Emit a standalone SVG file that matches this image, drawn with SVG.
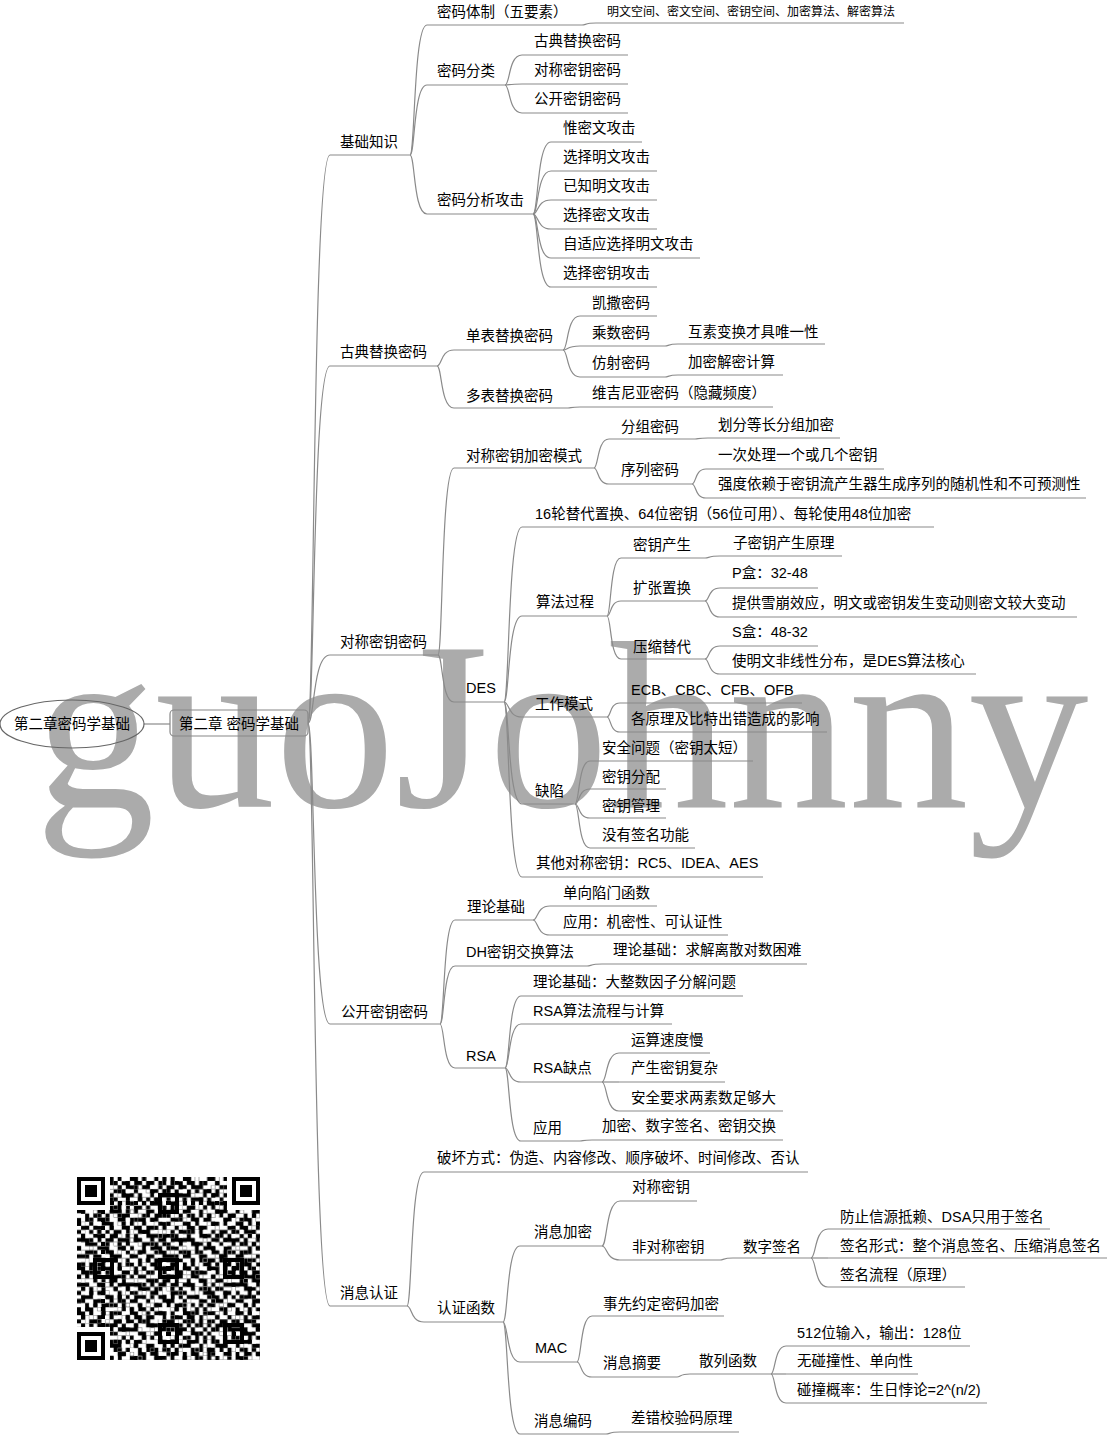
<svg xmlns="http://www.w3.org/2000/svg" width="1107" height="1435" viewBox="0 0 1107 1435">
<style>
.t{font-family:"Liberation Sans","Noto Sans CJK SC",sans-serif;font-size:14.5px;fill:#000}
.s{font-family:"Liberation Sans","Noto Sans CJK SC",sans-serif;font-size:12px;fill:#000}
.u,#connectors path{fill:none;stroke:#8a8a8a;stroke-width:1.2}
.wm{font-family:"Liberation Serif",serif;font-size:240px;fill:#ababab}
</style>
<defs>
<pattern id="qrp" width="13" height="11" patternUnits="userSpaceOnUse">
<path fill="#000" d="M0 0h2v1h-2zM3 0h1v1h-1zM6 0h3v1h-3zM10 0h1v1h-1zM1 1h2v1h-2zM4 1h2v1h-2zM8 1h1v1h-1zM11 1h2v1h-2zM0 2h1v1h-1zM2 2h3v1h-3zM7 2h1v1h-1zM9 2h2v1h-2zM12 2h1v1h-1zM1 3h1v1h-1zM4 3h3v1h-3zM8 3h2v1h-2zM11 3h1v1h-1zM0 4h3v1h-3zM5 4h1v1h-1zM7 4h2v1h-2zM10 4h3v1h-3zM2 5h3v1h-3zM6 5h1v1h-1zM9 5h1v1h-1zM12 5h1v1h-1zM0 6h1v1h-1zM3 6h1v1h-1zM5 6h3v1h-3zM10 6h2v1h-2zM1 7h3v1h-3zM7 7h2v1h-2zM10 7h1v1h-1zM12 7h1v1h-1zM0 8h2v1h-2zM4 8h2v1h-2zM8 8h3v1h-3zM2 9h1v1h-1zM4 9h1v1h-1zM6 9h2v1h-2zM9 9h1v1h-1zM11 9h2v1h-2zM0 10h1v1h-1zM2 10h2v1h-2zM5 10h2v1h-2zM10 10h2v1h-2z"/>
</pattern>
<pattern id="qrw" width="9" height="7" patternUnits="userSpaceOnUse">
<path fill="#fff" d="M2 0h1v1h-1zM7 0h1v1h-1zM4 1h1v1h-1zM0 2h1v1h-1zM6 2h1v1h-1zM3 3h1v1h-1zM8 3h1v1h-1zM1 4h1v1h-1zM5 4h1v1h-1zM7 5h1v1h-1zM2 6h1v1h-1zM4 6h1v1h-1z"/>
</pattern>
<pattern id="qrb" width="11" height="13" patternUnits="userSpaceOnUse">
<path fill="#000" d="M5 0h1v1h-1zM1 1h1v1h-1zM9 1h1v1h-1zM3 2h1v1h-1zM7 3h1v1h-1zM10 3h1v1h-1zM0 4h1v1h-1zM4 5h1v1h-1zM8 5h1v1h-1zM2 6h1v1h-1zM6 7h1v1h-1zM9 7h1v1h-1zM1 8h1v1h-1zM5 9h1v1h-1zM10 9h1v1h-1zM3 10h1v1h-1zM7 10h1v1h-1zM0 11h1v1h-1zM8 12h1v1h-1z"/>
</pattern>
</defs>
<rect width="1107" height="1435" fill="#fff"/>
<text class="wm" x="35" y="807">guoJohnny</text>

<g id="connectors">
<path d="M144 724H170"/>
<path d="M308 723C314.6 723 312.4 155 330 155"/>
<path d="M308 723C314.6 723 312.4 366 330 366"/>
<path d="M308 723C314.6 723 312.4 655 330 655"/>
<path d="M308 723C314.6 723 312.4 1024 330 1024"/>
<path d="M308 723C314.6 723 312.4 1306 330 1306"/>
<path d="M410 155C415.1 155 413.4 25 427 25"/>
<path d="M410 155C415.1 155 413.4 85 427 85"/>
<path d="M410 155C415.1 155 413.4 214 427 214"/>
<path d="M582 25C586.2 25 584.8 23 596 23"/>
<path d="M505 85C510.1 85 508.4 55 522 55"/>
<path d="M505 85C510.1 85 508.4 84 522 84"/>
<path d="M505 85C510.1 85 508.4 113 522 113"/>
<path d="M533 214C538.4 214 536.6 142 551 142"/>
<path d="M533 214C538.4 214 536.6 171 551 171"/>
<path d="M533 214C538.4 214 536.6 200 551 200"/>
<path d="M533 214C538.4 214 536.6 229 551 229"/>
<path d="M533 214C538.4 214 536.6 258 551 258"/>
<path d="M533 214C538.4 214 536.6 287 551 287"/>
<path d="M437 366C442.1 366 440.4 350 454 350"/>
<path d="M437 366C442.1 366 440.4 408 454 408"/>
<path d="M563 350C568.1 350 566.4 316 580 316"/>
<path d="M563 350C568.1 350 566.4 346 580 346"/>
<path d="M563 350C568.1 350 566.4 377 580 377"/>
<path d="M665 346C668.9 346 667.6 344 678 344"/>
<path d="M665 377C668.9 377 667.6 375 678 375"/>
<path d="M568 408C571.6 408 570.4 407 580 407"/>
<path d="M438 655C442.8 655 441.2 468 454 468"/>
<path d="M438 655C442.8 655 441.2 702 454 702"/>
<path d="M594 468C598.5 468 597 439 609 439"/>
<path d="M594 468C598.5 468 597 484 609 484"/>
<path d="M695 439C698.9 439 697.6 438 708 438"/>
<path d="M692 484C696.2 484 694.8 469 706 469"/>
<path d="M692 484C696.2 484 694.8 498 706 498"/>
<path d="M504 702C509.4 702 507.6 527 522 527"/>
<path d="M504 702C509.4 702 507.6 616 522 616"/>
<path d="M504 702C509.4 702 507.6 717 522 717"/>
<path d="M504 702C509.4 702 507.6 804 522 804"/>
<path d="M504 702C509.4 702 507.6 877 522 877"/>
<path d="M607 616C611.2 616 609.8 558 621 558"/>
<path d="M607 616C611.2 616 609.8 601 621 601"/>
<path d="M607 616C611.2 616 609.8 659 621 659"/>
<path d="M705 558C709.5 558 708 556 720 556"/>
<path d="M705 601C709.5 601 708 588 720 588"/>
<path d="M705 601C709.5 601 708 617 720 617"/>
<path d="M705 659C709.5 659 708 646 720 646"/>
<path d="M705 659C709.5 659 708 674 720 674"/>
<path d="M607 717C610.9 717 609.6 703 620 703"/>
<path d="M607 717C610.9 717 609.6 732 620 732"/>
<path d="M575 804C579.5 804 578 761 590 761"/>
<path d="M575 804C579.5 804 578 789 590 789"/>
<path d="M575 804C579.5 804 578 818 590 818"/>
<path d="M575 804C579.5 804 578 848 590 848"/>
<path d="M440 1024C444.5 1024 443 920 455 920"/>
<path d="M440 1024C444.5 1024 443 966 455 966"/>
<path d="M440 1024C444.5 1024 443 1068 455 1068"/>
<path d="M533 920C538.1 920 536.4 906 550 906"/>
<path d="M533 920C538.1 920 536.4 935 550 935"/>
<path d="M587 966C591.5 966 590 964 602 964"/>
<path d="M505 1068C509.8 1068 508.2 996 521 996"/>
<path d="M505 1068C509.8 1068 508.2 1024 521 1024"/>
<path d="M505 1068C509.8 1068 508.2 1082 521 1082"/>
<path d="M505 1068C509.8 1068 508.2 1141 521 1141"/>
<path d="M602 1082C607.1 1082 605.4 1053 619 1053"/>
<path d="M602 1082C607.1 1082 605.4 1082 619 1082"/>
<path d="M602 1082C607.1 1082 605.4 1111 619 1111"/>
<path d="M580 1141C583.6 1141 582.4 1140 592 1140"/>
<path d="M407 1306C412.1 1306 410.4 1172 424 1172"/>
<path d="M407 1306C412.1 1306 410.4 1322 424 1322"/>
<path d="M503 1322C508.1 1322 506.4 1246 520 1246"/>
<path d="M503 1322C508.1 1322 506.4 1362 520 1362"/>
<path d="M503 1322C508.1 1322 506.4 1434 520 1434"/>
<path d="M602 1246C607.4 1246 605.6 1201 620 1201"/>
<path d="M602 1246C607.4 1246 605.6 1260 620 1260"/>
<path d="M720 1260C723.9 1260 722.6 1258 733 1258"/>
<path d="M811 1258C816.1 1258 814.4 1229 828 1229"/>
<path d="M811 1258C816.1 1258 814.4 1258 828 1258"/>
<path d="M811 1258C816.1 1258 814.4 1287 828 1287"/>
<path d="M577 1362C581.5 1362 580 1316 592 1316"/>
<path d="M577 1362C581.5 1362 580 1377 592 1377"/>
<path d="M677 1377C680.9 1377 679.6 1374 690 1374"/>
<path d="M771 1374C775.5 1374 774 1346 786 1346"/>
<path d="M771 1374C775.5 1374 774 1374 786 1374"/>
<path d="M771 1374C775.5 1374 774 1403 786 1403"/>
<path d="M606 1434C610.2 1434 608.8 1432 620 1432"/>
</g>

<g id="root"><ellipse cx="72" cy="724" rx="72" ry="24" fill="none" stroke="#666" stroke-width="1.2"/><text class="t" x="72" y="729" text-anchor="middle">第二章密码学基础</text></g>
<g id="topic"><rect x="170" y="710" width="138" height="26" rx="4" fill="none" stroke="#888" stroke-width="1.2"/><text class="t" x="179" y="729">第二章 密码学基础</text></g>

<g id="n-jichu"><path class="u" d="M330 155H410"/><text class="t" x="340" y="147">基础知识</text></g>
<g id="n-gudian"><path class="u" d="M330 366H437"/><text class="t" x="340" y="357">古典替换密码</text></g>
<g id="n-duichen"><path class="u" d="M330 655H438"/><text class="t" x="340" y="647">对称密钥密码</text></g>
<g id="n-gongkai"><path class="u" d="M330 1024H440"/><text class="t" x="341" y="1017">公开密钥密码</text></g>
<g id="n-xiaoxi"><path class="u" d="M330 1306H407"/><text class="t" x="340" y="1298">消息认证</text></g>

<g id="n-a1"><path class="u" d="M427 25H582"/><text class="t" x="437" y="17">密码体制（五要素）</text></g>
<g id="n-a1a"><path class="u" d="M596 23H904"/><text class="s" x="607" y="16">明文空间、密文空间、密钥空间、加密算法、解密算法</text></g>
<g id="n-a2"><path class="u" d="M427 85H505"/><text class="t" x="437" y="76">密码分类</text></g>
<g id="n-a2a"><path class="u" d="M522 55H628"/><text class="t" x="534" y="46">古典替换密码</text></g>
<g id="n-a2b"><path class="u" d="M522 84H628"/><text class="t" x="534" y="75">对称密钥密码</text></g>
<g id="n-a2c"><path class="u" d="M522 113H628"/><text class="t" x="534" y="104">公开密钥密码</text></g>
<g id="n-a3"><path class="u" d="M427 214H533"/><text class="t" x="437" y="205">密码分析攻击</text></g>
<g id="n-a3a"><path class="u" d="M551 142H642"/><text class="t" x="563" y="133">惟密文攻击</text></g>
<g id="n-a3b"><path class="u" d="M551 171H657"/><text class="t" x="563" y="162">选择明文攻击</text></g>
<g id="n-a3c"><path class="u" d="M551 200H657"/><text class="t" x="563" y="191">已知明文攻击</text></g>
<g id="n-a3d"><path class="u" d="M551 229H657"/><text class="t" x="563" y="220">选择密文攻击</text></g>
<g id="n-a3e"><path class="u" d="M551 258H700"/><text class="t" x="563" y="249">自适应选择明文攻击</text></g>
<g id="n-a3f"><path class="u" d="M551 287H657"/><text class="t" x="563" y="278">选择密钥攻击</text></g>

<g id="n-b1"><path class="u" d="M454 350H563"/><text class="t" x="466" y="341">单表替换密码</text></g>
<g id="n-b1a"><path class="u" d="M580 316H657"/><text class="t" x="592" y="308">凯撒密码</text></g>
<g id="n-b1b"><path class="u" d="M580 346H665"/><text class="t" x="592" y="338">乘数密码</text></g>
<g id="n-b1b1"><path class="u" d="M678 344H825"/><text class="t" x="688" y="337">互素变换才具唯一性</text></g>
<g id="n-b1c"><path class="u" d="M580 377H665"/><text class="t" x="592" y="368">仿射密码</text></g>
<g id="n-b1c1"><path class="u" d="M678 375H783"/><text class="t" x="688" y="367">加密解密计算</text></g>
<g id="n-b2"><path class="u" d="M454 408H568"/><text class="t" x="466" y="401">多表替换密码</text></g>
<g id="n-b2a"><path class="u" d="M580 407H773"/><text class="t" x="592" y="398">维吉尼亚密码（隐藏频度）</text></g>

<g id="n-c1"><path class="u" d="M454 468H594"/><text class="t" x="466" y="461">对称密钥加密模式</text></g>
<g id="n-c1a"><path class="u" d="M609 439H695"/><text class="t" x="621" y="432">分组密码</text></g>
<g id="n-c1a1"><path class="u" d="M708 438H840"/><text class="t" x="718" y="430">划分等长分组加密</text></g>
<g id="n-c1b"><path class="u" d="M609 484H692"/><text class="t" x="621" y="475">序列密码</text></g>
<g id="n-c1b1"><path class="u" d="M706 469H884"/><text class="t" x="718" y="460">一次处理一个或几个密钥</text></g>
<g id="n-c1b2"><path class="u" d="M706 498H1086"/><text class="t" x="718" y="489">强度依赖于密钥流产生器生成序列的随机性和不可预测性</text></g>
<g id="n-c2"><path class="u" d="M454 702H504"/><text class="t" x="466" y="693">DES</text></g>
<g id="n-c2a"><path class="u" d="M522 527H934"/><text class="t" x="535" y="519">16轮替代置换、64位密钥（56位可用）、每轮使用48位加密</text></g>
<g id="n-c2b"><path class="u" d="M522 616H607"/><text class="t" x="536" y="607">算法过程</text></g>
<g id="n-c2b1"><path class="u" d="M621 558H705"/><text class="t" x="633" y="550">密钥产生</text></g>
<g id="n-c2b1a"><path class="u" d="M720 556H842"/><text class="t" x="733" y="548">子密钥产生原理</text></g>
<g id="n-c2b2"><path class="u" d="M621 601H705"/><text class="t" x="633" y="593">扩张置换</text></g>
<g id="n-c2b2a"><path class="u" d="M720 588H818"/><text class="t" x="732" y="578">P盒：32-48</text></g>
<g id="n-c2b2b"><path class="u" d="M720 617H1077"/><text class="t" x="732" y="608">提供雪崩效应，明文或密钥发生变动则密文较大变动</text></g>
<g id="n-c2b3"><path class="u" d="M621 659H705"/><text class="t" x="633" y="652">压缩替代</text></g>
<g id="n-c2b3a"><path class="u" d="M720 646H818"/><text class="t" x="732" y="637">S盒：48-32</text></g>
<g id="n-c2b3b"><path class="u" d="M720 674H976"/><text class="t" x="732" y="666">使明文非线性分布，是DES算法核心</text></g>
<g id="n-c2c"><path class="u" d="M522 717H607"/><text class="t" x="535" y="709">工作模式</text></g>
<g id="n-c2c1"><path class="u" d="M620 703H802"/><text class="t" x="631" y="695">ECB、CBC、CFB、OFB</text></g>
<g id="n-c2c2"><path class="u" d="M620 732H827"/><text class="t" x="631" y="724">各原理及比特出错造成的影响</text></g>
<g id="n-c2d"><path class="u" d="M522 804H575"/><text class="t" x="535" y="796">缺陷</text></g>
<g id="n-c2d1"><path class="u" d="M590 761H753"/><text class="t" x="602" y="753">安全问题（密钥太短）</text></g>
<g id="n-c2d2"><path class="u" d="M590 789H666"/><text class="t" x="602" y="782">密钥分配</text></g>
<g id="n-c2d3"><path class="u" d="M590 818H666"/><text class="t" x="602" y="811">密钥管理</text></g>
<g id="n-c2d4"><path class="u" d="M590 848H695"/><text class="t" x="602" y="840">没有签名功能</text></g>
<g id="n-c2e"><path class="u" d="M522 877H763"/><text class="t" x="536" y="868">其他对称密钥：RC5、IDEA、AES</text></g>

<g id="n-d1"><path class="u" d="M455 920H533"/><text class="t" x="467" y="912">理论基础</text></g>
<g id="n-d1a"><path class="u" d="M550 906H657"/><text class="t" x="563" y="898">单向陷门函数</text></g>
<g id="n-d1b"><path class="u" d="M550 935H728"/><text class="t" x="563" y="927">应用：机密性、可认证性</text></g>
<g id="n-d2"><path class="u" d="M455 966H587"/><text class="t" x="466" y="957">DH密钥交换算法</text></g>
<g id="n-d2a"><path class="u" d="M602 964H807"/><text class="t" x="613" y="955">理论基础：求解离散对数困难</text></g>
<g id="n-d3"><path class="u" d="M455 1068H505"/><text class="t" x="466" y="1061">RSA</text></g>
<g id="n-d3a"><path class="u" d="M521 996H743"/><text class="t" x="533" y="987">理论基础：大整数因子分解问题</text></g>
<g id="n-d3b"><path class="u" d="M521 1024H672"/><text class="t" x="533" y="1016">RSA算法流程与计算</text></g>
<g id="n-d3c"><path class="u" d="M521 1082H602"/><text class="t" x="533" y="1073">RSA缺点</text></g>
<g id="n-d3c1"><path class="u" d="M619 1053H710"/><text class="t" x="631" y="1045">运算速度慢</text></g>
<g id="n-d3c2"><path class="u" d="M619 1082H725"/><text class="t" x="631" y="1073">产生密钥复杂</text></g>
<g id="n-d3c3"><path class="u" d="M619 1111H783"/><text class="t" x="631" y="1103">安全要求两素数足够大</text></g>
<g id="n-d3d"><path class="u" d="M521 1141H580"/><text class="t" x="533" y="1133">应用</text></g>
<g id="n-d3d1"><path class="u" d="M592 1140H783"/><text class="t" x="602" y="1131">加密、数字签名、密钥交换</text></g>

<g id="n-e1"><path class="u" d="M424 1172H808"/><text class="t" x="437" y="1163">破坏方式：伪造、内容修改、顺序破坏、时间修改、否认</text></g>
<g id="n-e2"><path class="u" d="M424 1322H503"/><text class="t" x="437" y="1313">认证函数</text></g>
<g id="n-e2a"><path class="u" d="M520 1246H602"/><text class="t" x="534" y="1237">消息加密</text></g>
<g id="n-e2a1"><path class="u" d="M620 1201H697"/><text class="t" x="632" y="1192">对称密钥</text></g>
<g id="n-e2a2"><path class="u" d="M620 1260H720"/><text class="t" x="632" y="1252">非对称密钥</text></g>
<g id="n-e2a2a"><path class="u" d="M733 1258H811"/><text class="t" x="743" y="1252">数字签名</text></g>
<g id="n-e2a2a1"><path class="u" d="M828 1229H1050"/><text class="t" x="840" y="1222">防止信源抵赖、DSA只用于签名</text></g>
<g id="n-e2a2a2"><path class="u" d="M828 1258H1107"/><text class="t" x="840" y="1251">签名形式：整个消息签名、压缩消息签名</text></g>
<g id="n-e2a2a3"><path class="u" d="M828 1287H965"/><text class="t" x="840" y="1280">签名流程（原理）</text></g>
<g id="n-e2b"><path class="u" d="M520 1362H577"/><text class="t" x="535" y="1353">MAC</text></g>
<g id="n-e2b1"><path class="u" d="M592 1316H724"/><text class="t" x="603" y="1309">事先约定密码加密</text></g>
<g id="n-e2b2"><path class="u" d="M592 1377H677"/><text class="t" x="603" y="1368">消息摘要</text></g>
<g id="n-e2b2a"><path class="u" d="M690 1374H771"/><text class="t" x="699" y="1366">散列函数</text></g>
<g id="n-e2b2a1"><path class="u" d="M786 1346H970"/><text class="t" x="797" y="1338">512位输入，输出：128位</text></g>
<g id="n-e2b2a2"><path class="u" d="M786 1374H918"/><text class="t" x="797" y="1366">无碰撞性、单向性</text></g>
<g id="n-e2b2a3"><path class="u" d="M786 1403H987"/><text class="t" x="797" y="1395">碰撞概率：生日悖论=2^(n/2)</text></g>
<g id="n-e2c"><path class="u" d="M520 1434H606"/><text class="t" x="534" y="1426">消息编码</text></g>
<g id="n-e2c1"><path class="u" d="M620 1432H739"/><text class="t" x="631" y="1423">差错校验码原理</text></g>

<g id="qrcode" transform="translate(77 1177) scale(4.067)" shape-rendering="crispEdges">
<rect width="45" height="45" fill="url(#qrp)"/>
<rect width="45" height="45" fill="url(#qrw)"/>
<rect width="45" height="45" fill="url(#qrb)"/>
<path fill="#fff" d="M0 0h8v8h-8zM37 0h8v8h-8zM0 37h8v8h-8z"/>
<path d="M8 6.5H37M6.5 8V37" stroke="#000" stroke-width="1" stroke-dasharray="1 1"/>
<path fill="#000" fill-rule="evenodd" d="M0 0h7v7h-7zM1 1v5h5v-5zM2 2h3v3h-3zM38 0h7v7h-7zM39 1v5h5v-5zM40 2h3v3h-3zM0 38h7v7h-7zM1 39v5h5v-5zM2 40h3v3h-3z"/>
<path fill="#000" fill-rule="evenodd" d="M20 4h5v5h-5zM21 5v3h3v-3zM22 6h1v1h-1zM4 20h5v5h-5zM5 21v3h3v-3zM6 22h1v1h-1zM20 20h5v5h-5zM21 21v3h3v-3zM22 22h1v1h-1zM36 20h5v5h-5zM37 21v3h3v-3zM38 22h1v1h-1zM20 36h5v5h-5zM21 37v3h3v-3zM22 38h1v1h-1zM36 36h5v5h-5zM37 37v3h3v-3zM38 38h1v1h-1z"/>
</g>
</svg>
